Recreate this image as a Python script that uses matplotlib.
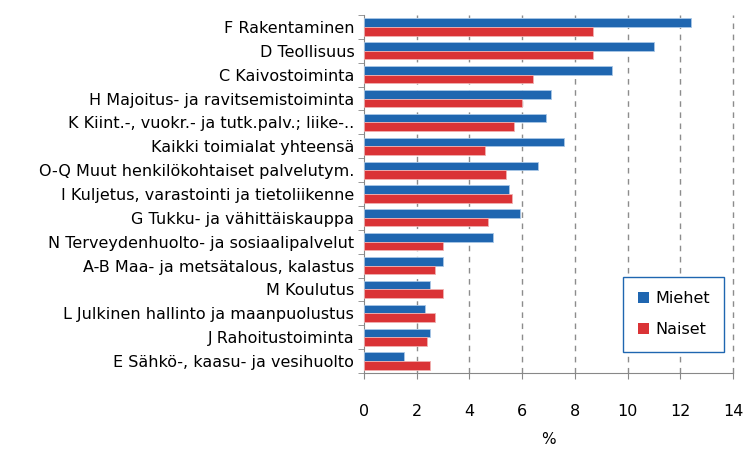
import numpy as np
import matplotlib.pyplot as plt

categories = [
    "F Rakentaminen",
    "D Teollisuus",
    "C Kaivostoiminta",
    "H Majoitus- ja ravitsemistoiminta",
    "K Kiint.-, vuokr.- ja tutk.palv.; liike-..",
    "Kaikki toimialat yhteensä",
    "O-Q Muut henkilökohtaiset palvelutym.",
    "I Kuljetus, varastointi ja tietoliikenne",
    "G Tukku- ja vähittäiskauppa",
    "N Terveydenhuolto- ja sosiaalipalvelut",
    "A-B Maa- ja metsätalous, kalastus",
    "M Koulutus",
    "L Julkinen hallinto ja maanpuolustus",
    "J Rahoitustoiminta",
    "E Sähkö-, kaasu- ja vesihuolto",
]
miehet = [12.4, 11.0, 9.4, 7.1, 6.9, 7.6, 6.6, 5.5, 5.9, 4.9, 3.0, 2.5, 2.3, 2.5, 1.5]
naiset = [8.7, 8.7, 6.4, 6.0, 5.7, 4.6, 5.4, 5.6, 4.7, 3.0, 2.7, 3.0, 2.7, 2.4, 2.5]
xticks = [0, 2, 4, 6, 8, 10, 12, 14]

blue = "#1f66b0"
red = "#da3336"

fig = plt.figure(figsize=(7.46, 4.55), dpi=100)
ax = fig.add_axes([364 / 746, 1 - 373 / 455, (733 - 364) / 746, (373 - 15) / 455])

y = np.arange(len(categories))
h = 0.36
ax.barh(y - h / 2, miehet, height=h, color=blue, edgecolor="#a9c7e6", linewidth=0.6, label="Miehet", zorder=3)
ax.barh(y + h / 2, naiset, height=h, color=red, edgecolor="#f0b0b0", linewidth=0.6, label="Naiset", zorder=3)

ax.set_ylim(len(categories) - 0.5, -0.5)
ax.set_xlim(0, 14)
ax.set_yticks(y)
ax.set_yticklabels(categories, fontsize=11.5)
ax.tick_params(axis="y", length=0, pad=7)
ax.set_yticks(np.arange(-0.5, len(categories), 1), minor=True)
ax.tick_params(axis="y", which="minor", length=4, color="#888888")
ax.set_xticks(xticks)
ax.set_xticklabels([str(t) for t in xticks], fontsize=11.5)
ax.tick_params(axis="x", length=4, color="#888888", pad=18)
ax.set_xlabel("%", fontsize=11, labelpad=10)

for t in xticks[1:]:
    ax.axvline(t, color="#8c8c8c", linestyle=(0, (4, 4)), linewidth=1, zorder=1, clip_on=False)

for s in ["top", "right"]:
    ax.spines[s].set_visible(False)
ax.spines["left"].set_color("#888888")
ax.spines["bottom"].set_color("#888888")

leg = ax.legend(loc="lower right", bbox_to_anchor=(0.976, 0.06), fontsize=11.5,
                fancybox=False, framealpha=1, handlelength=0.7, handleheight=0.7,
                labelspacing=1.0, borderpad=0.9, handletextpad=0.4, borderaxespad=0)
leg.get_frame().set_edgecolor(blue)
leg.get_frame().set_linewidth(1)
for p in leg.get_patches():
    p.set_edgecolor("none")

fig.savefig("out.png", dpi=100)
